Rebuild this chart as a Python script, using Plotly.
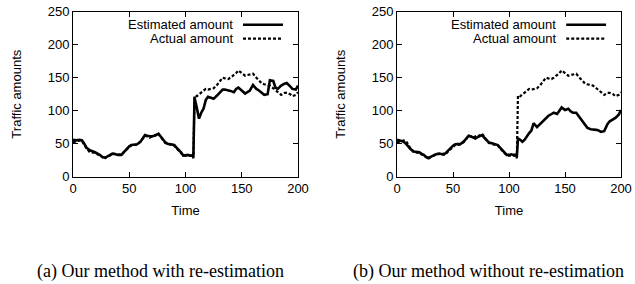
import plotly.graph_objects as go

time = [0,3,6,8,10,12,15,18,20,22,24,26,28,30,32,35,38,40,43,46,48,50,52,55,57,60,62,64,66,68,70,72,74,76,78,80,82,84,87,90,92,94,96,98,100,102,104,106,107,108,110,112,114,116,118,120,122,125,128,130,133,135,138,140,143,145,147,150,153,155,157,160,163,165,168,170,173,175,178,180,182,185,188,190,193,195,198,200]
actual = [52,53,55,54,48,43,37,37,36,35,32,29,27,30,31,35,34,33,33,39,42,46,48,48,49,53,58,62,61,59,61,61,63,65,60,55,51,50,49,47,43,40,36,32,32,33,33,32,28,123,122,125,127,130,133,132,133,134,139,143,150,149,148,150,154,157,161,157,153,154,155,156,150,146,141,140,139,138,134,131,127,124,127,127,125,122,124,128]
est_a = [56,55,56,55,50,44,40,38,37,34,33,30,29,30,32,35,34,33,33,39,43,46,48,49,49,53,58,63,62,61,61,62,63,65,61,57,52,50,49,48,44,41,37,32,33,33,32,32,30,120,105,88,97,103,116,121,120,118,123,126,132,132,131,130,128,133,135,131,126,128,130,139,133,131,127,124,125,146,145,135,133,138,141,142,137,133,132,138]
est_b = [56,54,53,50,46,42,38,38,37,34,33,30,28,30,32,34,35,34,35,40,44,47,49,50,50,54,58,62,61,59,58,60,62,63,59,56,52,51,50,48,44,40,36,33,33,34,33,33,30,58,56,53,56,62,66,70,81,75,80,84,89,92,95,97,95,101,105,101,103,99,97,97,90,85,78,74,72,72,71,70,68,69,80,84,87,89,94,101]

x_ticks = [0, 50, 100, 150, 200]
y_ticks = [0, 50, 100, 150, 200, 250]
captions = ["(a) Our method with re-estimation", "(b) Our method without re-estimation"]
legend_names = ["Estimated amount", "Actual amount"]

W, H = 635, 284
fig = go.Figure()

domains_x = [[73/W, 298/W], [397/W, 621/W]]
dom_y = [(H - 176.7)/H, (H - 11.7)/H]
font = dict(family="Liberation Sans, Arial, sans-serif", size=13, color="black")

for i, est in enumerate([est_a, est_b]):
    xa = "x" if i == 0 else "x2"
    ya = "y" if i == 0 else "y2"
    fig.add_trace(go.Scatter(x=time, y=est, mode="lines", xaxis=xa, yaxis=ya,
                             line=dict(color="black", width=2.6), showlegend=False))
    fig.add_trace(go.Scatter(x=time, y=actual, mode="lines", xaxis=xa, yaxis=ya,
                             line=dict(color="black", width=2.2, dash="3px,2px"), showlegend=False))
    axcommon = dict(showgrid=False, zeroline=False, showline=True, linecolor="black",
                    linewidth=1, mirror="ticks", ticks="inside", ticklen=5,
                    tickcolor="black", tickfont=font, automargin=False)
    xkey = "xaxis" if i == 0 else "xaxis2"
    ykey = "yaxis" if i == 0 else "yaxis2"
    fig.update_layout({
        xkey: dict(domain=domains_x[i], range=[0, 200], tickvals=x_ticks,
                   anchor=ya, title=dict(text="Time", font=font, standoff=10), **axcommon),
        ykey: dict(domain=dom_y, range=[0, 250], tickvals=y_ticks,
                   anchor=xa, title=dict(text="Traffic amounts", font=font, standoff=23), **axcommon),
    })
    # legend (text on left, sample on right, gnuplot style)
    xd = xa + " domain"
    yd = ya + " domain"
    for k, (name, dash, lw) in enumerate(zip(legend_names, ["solid", "3px,2px"], [2.6, 2.2])):
        yy = 1 - (13 + 14 * k) / 165
        fig.add_annotation(x=(235 - 73) / 225, y=yy, xref=xd, yref=yd, text=name,
                           showarrow=False, xanchor="right", yanchor="middle", font=font)
        fig.add_shape(type="line", xref=xd, yref=yd, x0=(243 - 73) / 225, x1=(283 - 73) / 225,
                      y0=yy, y1=yy, line=dict(color="black", width=lw, dash=dash))
    fig.add_annotation(x=[160, 488][i] / W, y=(H - 271) / H, xref="paper", yref="paper",
                       text=captions[i], showarrow=False, xanchor="center", yanchor="middle",
                       font=dict(family="Liberation Serif, Times New Roman, serif", size=18, color="black"))

fig.update_layout(width=W, height=H, margin=dict(l=0, r=0, t=0, b=0),
                  paper_bgcolor="white", plot_bgcolor="white", showlegend=False)
fig.write_html("out.html", config={"displayModeBar": False},
               post_script="document.body.style.margin='0';document.body.style.overflow='hidden';")
